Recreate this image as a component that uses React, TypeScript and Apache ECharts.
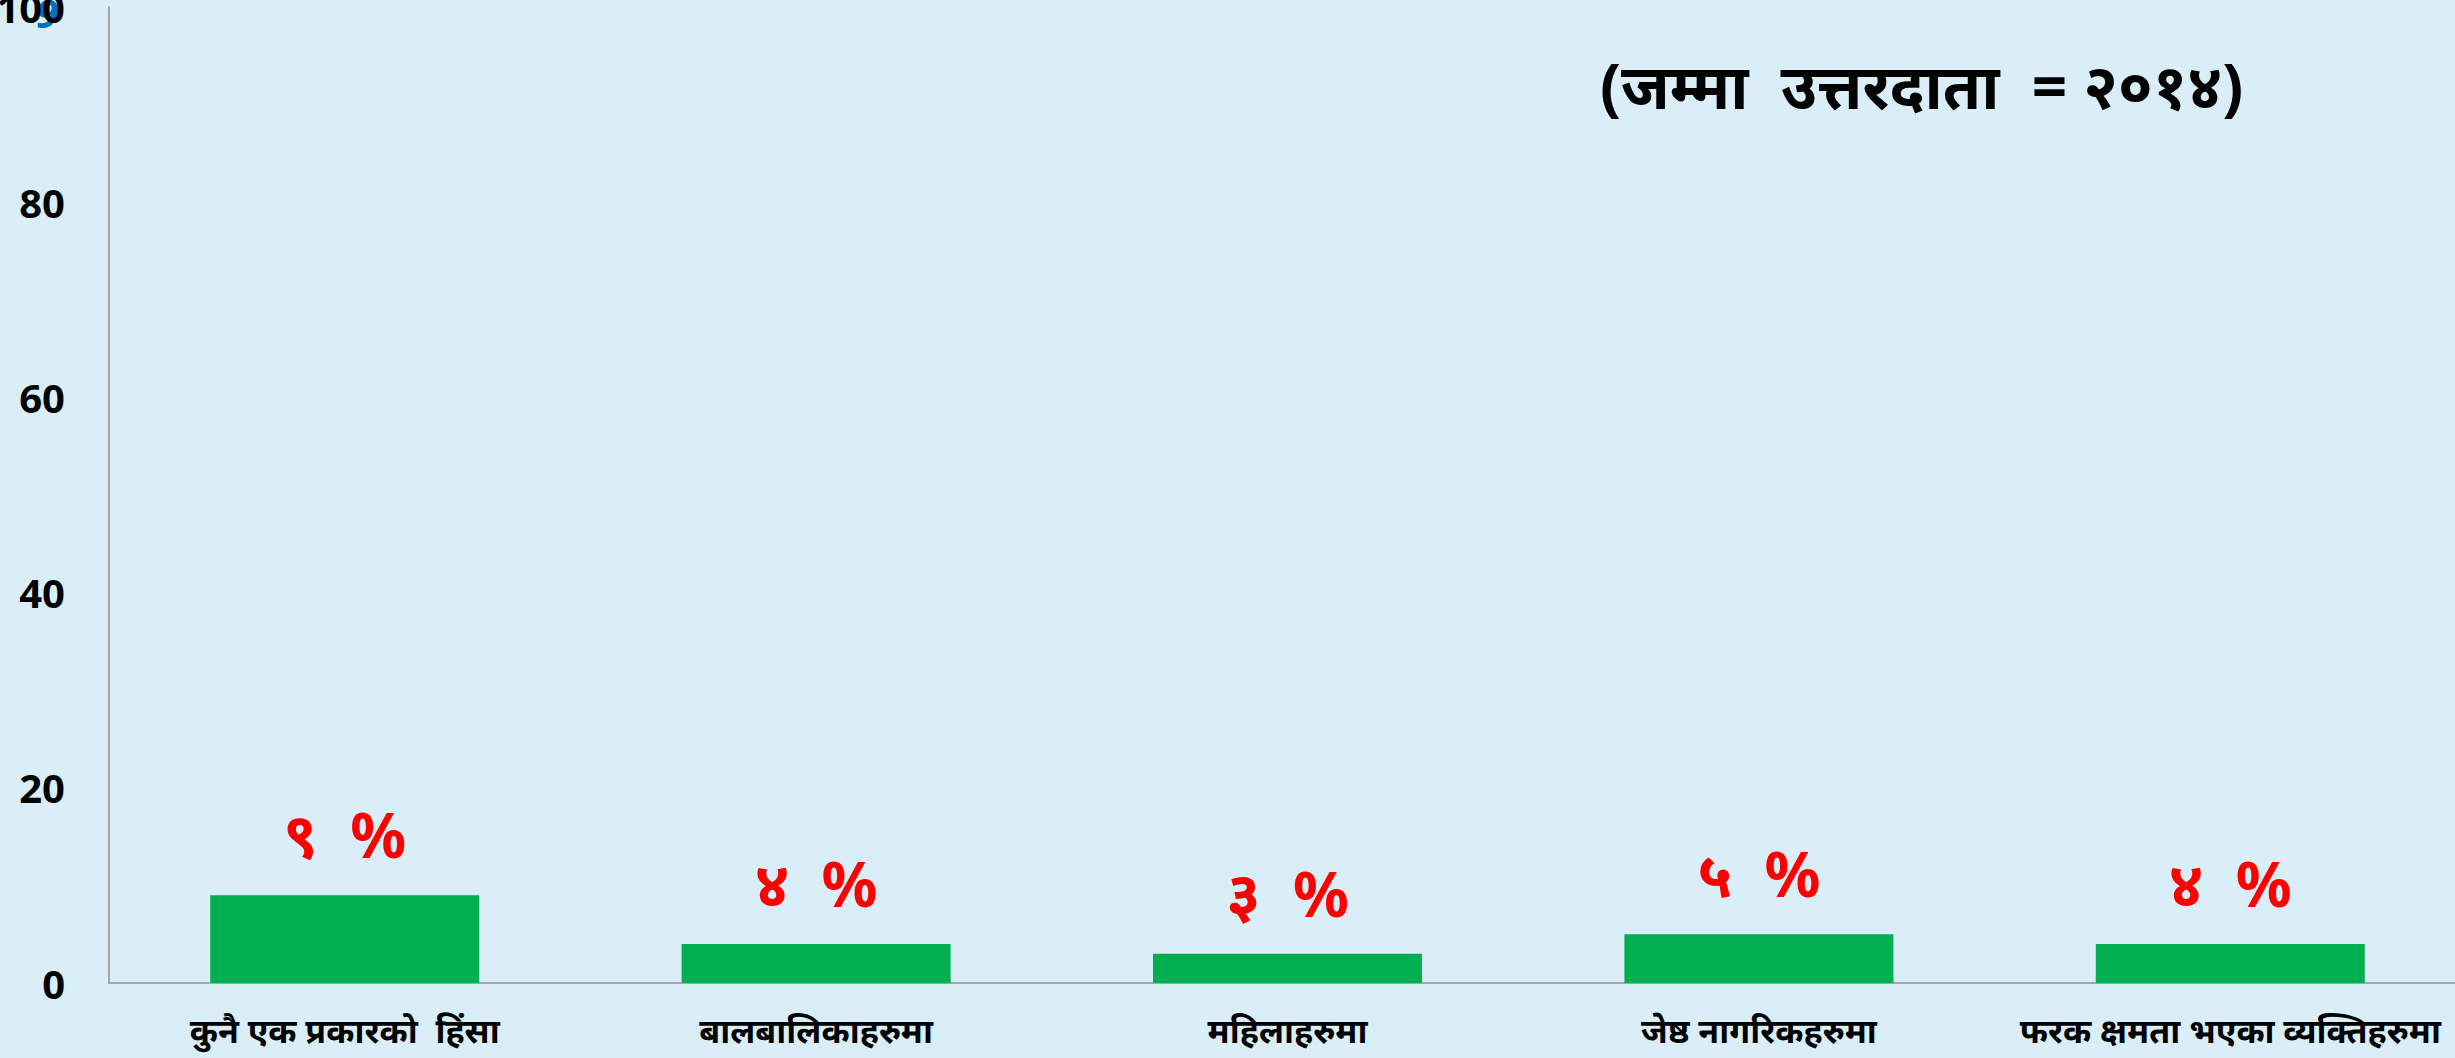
import React, { useEffect, useRef } from "react";
import * as echarts from "echarts";

const categories = [
  "कुनै एक प्रकारको  हिंसा",
  "बालबालिकाहरुमा",
  "महिलाहरुमा",
  "जेष्ठ नागरिकहरुमा",
  "फरक क्षमता भएका व्यक्तिहरुमा",
];
const values = [9, 4, 3, 5, 4];
const valueLabels = ["९  %", "४  %", "३  %", "५  %", "४  %"];
const titleText = "(जम्मा  उत्तरदाता  = २०१४)";
const yMin = 0;
const yMax = 100;
const yInterval = 20;

export default function App() {
  const ref = useRef<HTMLDivElement>(null);
  useEffect(() => {
    document.body.style.margin = "0";
    document.body.style.overflow = "hidden";
    const chart = echarts.init(ref.current!, null, { renderer: "svg" });
    chart.setOption({
      animation: false,
      backgroundColor: "#DAEEF8",
      grid: {
        left: 109,
        right: 0,
        top: 7,
        bottom: 75,
        containLabel: false,
        outerBoundsMode: "none",
      },
      graphic: [
        {
          type: "text",
          left: 1600,
          top: 54,
          style: {
            text: titleText,
            fontSize: 62,
            fontWeight: "bold",
            fill: "#000",
            fontFamily: "Noto Sans, sans-serif",
          },
        },
        {
          type: "text",
          left: 36,
          top: -8,
          z: -1,
          style: {
            text: "9",
            fontSize: 40,
            fontStyle: "italic",
            fontWeight: "bold",
            fill: "#0070C0",
            fontFamily: "Open Sans, sans-serif",
          },
        },
      ],
      xAxis: {
        type: "category",
        data: categories,
        axisLine: { show: true, lineStyle: { color: "#A6A6A6", width: 2 } },
        axisTick: { show: false },
        axisLabel: {
          interval: 0,
          margin: 30,
          fontSize: 34,
          fontWeight: "bold",
          color: "#000",
          fontFamily: "Noto Sans, sans-serif",
        },
      },
      yAxis: {
        type: "value",
        min: yMin,
        max: yMax,
        interval: yInterval,
        splitLine: { show: false },
        axisLine: { show: true, lineStyle: { color: "#A6A6A6", width: 2 } },
        axisTick: { show: false },
        axisLabel: {
          margin: 44,
          fontSize: 40,
          fontWeight: "bold",
          color: "#000",
          fontFamily: "Open Sans, sans-serif",
        },
      },
      series: [
        {
          type: "bar",
          data: values,
          barWidth: 269,
          itemStyle: { color: "#00B050" },
          label: {
            show: true,
            position: "top",
            distance: 30,
            formatter: (p: any) => valueLabels[p.dataIndex],
            fontSize: 62,
            lineHeight: 62,
            fontWeight: "bold",
            color: "#FF0000",
            fontFamily: "Noto Sans, sans-serif",
          },
        },
      ],
    });
    return () => chart.dispose();
  }, []);
  return (
    <div
      ref={ref}
      style={{ position: "fixed", left: 0, top: 0, width: 2466, height: 1058 }}
    />
  );
}
